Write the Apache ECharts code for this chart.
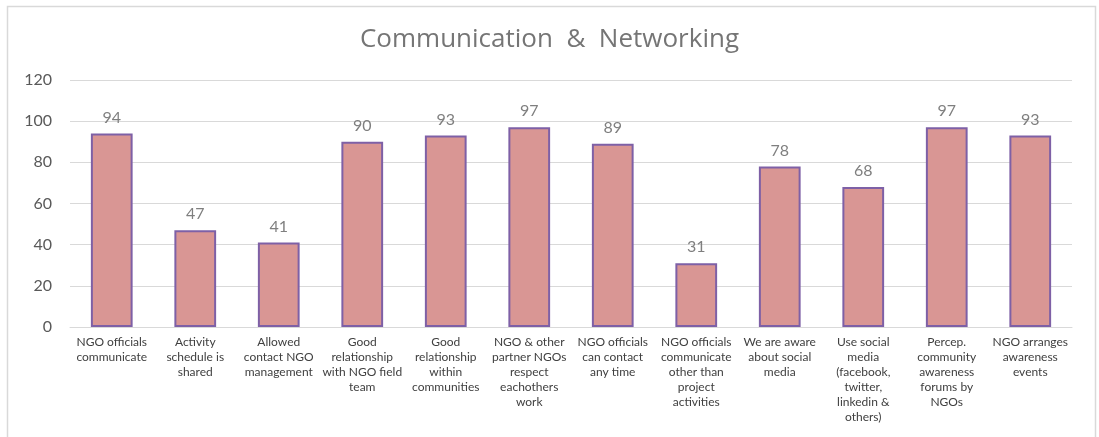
<!DOCTYPE html>
<html>
<head>
<meta charset="utf-8">
<script src="https://cdn.jsdelivr.net/npm/echarts@6/dist/echarts.min.js"></script>
<style>html,body{margin:0;padding:0;background:#fff}#c{width:1099px;height:437px}</style>
</head>
<body>
<div id="c"></div>
<script>
var title = 'Communication  &  Networking';
var categories = [
  'NGO officials\ncommunicate',
  'Activity\nschedule is\nshared',
  'Allowed\ncontact NGO\nmanagement',
  'Good\nrelationship\nwith NGO field\nteam',
  'Good\nrelationship\nwithin\ncommunities',
  'NGO & other\npartner NGOs\nrespect\neachothers\nwork',
  'NGO officials\ncan contact\nany time',
  'NGO officials\ncommunicate\nother than\nproject\nactivities',
  'We are aware\nabout social\nmedia',
  'Use social\nmedia\n(facebook,\ntwitter,\nlinkedin &\nothers)',
  'Percep.\ncommunity\nawareness\nforums by\nNGOs',
  'NGO arranges\nawareness\nevents'
];
var values = [94, 47, 41, 90, 93, 97, 89, 31, 78, 68, 97, 93];
var yTicks = [0, 20, 40, 60, 80, 100, 120];

var chart = echarts.init(document.getElementById('c'));
chart.setOption({
  animation: false,
  backgroundColor: '#fff',
  title: {
    text: title, left: 'center', top: 22,
    textStyle: {fontFamily: 'Open Sans', fontSize: 26, fontWeight: 'normal', color: '#757575'}
  },
  graphic: [{
    type: 'rect', left: 5, top: 4, silent: true,
    shape: {width: 1088, height: 445},
    style: {fill: 'none', stroke: '#d9d9d9', lineWidth: 1.5}
  }],
  grid: {left: 70, right: 27, top: 80, bottom: 110},
  xAxis: {
    type: 'category', data: categories,
    axisTick: {show: false},
    axisLine: {lineStyle: {color: '#d9d9d9'}},
    axisLabel: {interval: 0, margin: 8, fontFamily: 'Lato', fontSize: 12, color: '#404040', lineHeight: 15}
  },
  yAxis: {
    type: 'value', min: yTicks[0], max: yTicks[yTicks.length - 1], interval: 20,
    axisLine: {show: false}, axisTick: {show: false},
    splitLine: {lineStyle: {color: '#d9d9d9'}},
    axisLabel: {margin: 18, fontFamily: 'Lato', fontSize: 16, color: '#595959'}
  },
  series: [{
    type: 'bar', data: values, barWidth: '50%',
    itemStyle: {color: '#d99694', borderColor: '#7e60a6', borderWidth: 2},
    label: {show: true, position: 'top', distance: 8, fontFamily: 'Lato', fontSize: 16, color: '#7f7f7f'}
  }]
});
</script>
</body>
</html>
